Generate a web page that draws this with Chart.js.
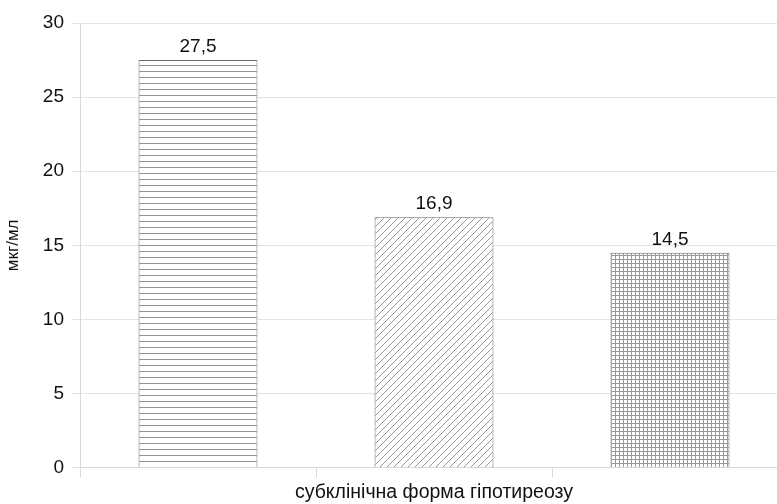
<!DOCTYPE html>
<html>
<head>
<meta charset="utf-8">
<script src="https://cdn.jsdelivr.net/npm/chart.js@4/dist/chart.umd.min.js"></script>
<style>
  html, body { margin: 0; padding: 0; background: #fff; overflow: hidden; }
  #wrap { width: 790px; height: 504px; position: relative; }
</style>
</head>
<body>
<div id="wrap"><canvas id="c"></canvas></div>
<script>
// Groups within the subclinical hypothyroidism sample
const groups = ['1', '2', '3'];
const values = [27.5, 16.9, 14.5];
const valueLabels = ['27,5', '16,9', '14,5'];
const yTicks = [0, 5, 10, 15, 20, 25, 30];
const axisTitleX = 'субклінічна форма гіпотиреозу';
const axisTitleY = 'мкг/мл';

const FONT = '"Liberation Sans", Arial, sans-serif';

function makePattern(kind) {
  const t = document.createElement('canvas');
  const g = t.getContext('2d');
  if (kind === 'horizontal') {
    t.width = 6; t.height = 6;
    g.fillStyle = '#fff'; g.fillRect(0, 0, 6, 6);
    g.fillStyle = '#939393'; g.fillRect(0, 5, 6, 1);
  } else if (kind === 'diagonal') {
    t.width = 7; t.height = 7;
    g.fillStyle = '#fff'; g.fillRect(0, 0, 7, 7);
    g.strokeStyle = '#8a8a8a'; g.lineWidth = 0.9;
    g.beginPath();
    g.moveTo(-1, 8); g.lineTo(8, -1);
    g.moveTo(-8, 8); g.lineTo(1, -1);
    g.moveTo(6, 8); g.lineTo(15, -1);
    g.stroke();
  } else {
    t.width = 4; t.height = 4;
    g.fillStyle = '#fff'; g.fillRect(0, 0, 4, 4);
    g.fillStyle = '#9090d6';
    g.fillRect(0, 3, 4, 1);
    g.fillRect(3, 0, 1, 4);
  }
  return g.createPattern(t, 'repeat');
}

const fills = [makePattern('horizontal'), makePattern('diagonal'), makePattern('grid')];

const valueLabelPlugin = {
  id: 'valueLabels',
  afterDatasetsDraw(chart) {
    const ctx = chart.ctx;
    const meta = chart.getDatasetMeta(0);
    ctx.save();
    ctx.font = '19px ' + FONT;
    ctx.fillStyle = '#111';
    ctx.textAlign = 'center';
    ctx.textBaseline = 'alphabetic';
    meta.data.forEach((bar, i) => {
      ctx.fillText(valueLabels[i], bar.x, bar.y - 8);
    });
    ctx.restore();
  }
};

new Chart(document.getElementById('c'), {
  type: 'bar',
  data: {
    labels: groups,
    datasets: [{
      data: values,
      backgroundColor: fills,
      borderColor: ['#6e6e6e', '#6e6e6e', '#6a6a8c'],
      borderWidth: 1,
      barPercentage: 0.504,
      categoryPercentage: 1.0
    }]
  },
  options: {
    responsive: true,
    maintainAspectRatio: false,
    animation: false,
    layout: { padding: { left: 0, right: 2, top: 23, bottom: 0 } },
    plugins: { legend: { display: false }, tooltip: { enabled: false } },
    scales: {
      x: {
        offset: true,
        grid: { offset: true, drawOnChartArea: false, color: '#d9d9d9', tickLength: 10 },
        border: { color: '#d9d9d9' },
        ticks: { display: false },
        title: {
          display: true,
          text: axisTitleX,
          color: '#111',
          font: { family: FONT, size: 19.5 },
          padding: { top: 3, bottom: 0 }
        }
      },
      y: {
        min: 0, max: 30,
        afterBuildTicks(scale) { scale.ticks = yTicks.map(v => ({ value: v })); },
        afterFit(scale) { scale.width = 80; },
        grid: { color: '#e3e3e3', tickLength: 8 },
        border: { color: '#d9d9d9' },
        ticks: {
          color: '#111',
          padding: 8,
          font: { family: FONT, size: 19 }
        },
        title: {
          display: true,
          text: axisTitleY,
          color: '#111',
          font: { family: FONT, size: 17 },
          padding: { top: 3, bottom: 0 }
        }
      }
    }
  },
  plugins: [valueLabelPlugin]
});
</script>
</body>
</html>
